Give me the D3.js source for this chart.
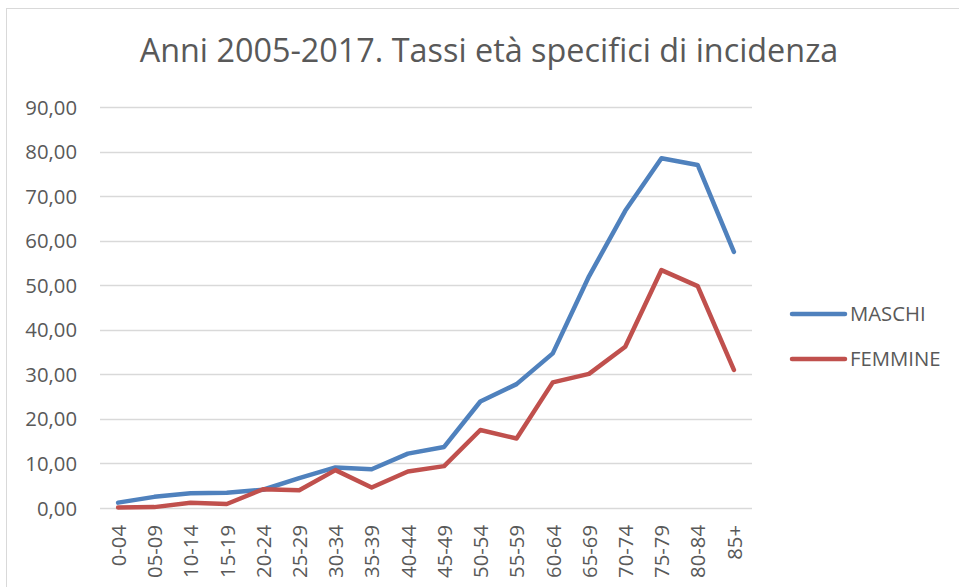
<!DOCTYPE html>
<html><head><meta charset="utf-8">
<script src="https://cdnjs.cloudflare.com/ajax/libs/d3/7.8.5/d3.min.js"></script>
<style>html,body{margin:0;padding:0;background:#fff;}svg{display:block;}</style>
</head><body>
<svg id="c" width="959" height="587"></svg>
<script>
const title = "Anni 2005-2017. Tassi età specifici di incidenza";
const categories = ["0-04","05-09","10-14","15-19","20-24","25-29","30-34","35-39","40-44","45-49","50-54","55-59","60-64","65-69","70-74","75-79","80-84","85+"];
const maschi = [1.2,2.5,3.3,3.4,4.1,6.7,9.1,8.7,12.2,13.7,23.9,27.8,34.7,52.0,66.7,78.5,77.0,57.5];
const femmine = [0.1,0.2,1.2,0.9,4.2,4.0,8.5,4.6,8.2,9.4,17.5,15.6,28.2,30.1,36.2,53.4,49.8,31.0];
const yTicks = [0,10,20,30,40,50,60,70,80,90];
const seriesNames = ["MASCHI","FEMMINE"];
const colors = ["#4F81BD","#C0504D"];

const font = "'Open Sans', sans-serif";
const fs = 20.3;
const svg = d3.select("#c");
const textColor = "#595959";

// border
svg.append("rect").attr("x",6.5).attr("y",8.5).attr("width",1000).attr("height",1000)
  .attr("fill","none").attr("stroke","#d9d9d9").attr("stroke-width",1);

const x = d3.scalePoint().domain(categories).range([118.1, 733.9]);
const y = d3.scaleLinear().domain([0,90]).range([508,107]);

// gridlines
svg.append("g").selectAll("line").data(yTicks).join("line")
  .attr("x1",100).attr("x2",752)
  .attr("y1",d=>Math.round(y(d))+0.5).attr("y2",d=>Math.round(y(d))+0.5)
  .attr("stroke","#d9d9d9").attr("stroke-width",1.3);

// y axis labels
const fmt = d => d.toFixed(2).replace(".", ",");
const yAxis = d3.axisLeft(y).tickValues(yTicks).tickFormat(fmt).tickSize(0).tickPadding(0);
const gy = svg.append("g").attr("transform","translate(77,0)").call(yAxis);
gy.select(".domain").remove();
gy.selectAll("text").attr("font-family",font).attr("font-size",fs).attr("fill",textColor).attr("dy","0.35em");

// x axis labels
const xAxis = d3.axisBottom(x).tickSize(0).tickPadding(0);
const gx = svg.append("g").attr("transform","translate(0,522)").call(xAxis);
gx.select(".domain").remove();
gx.selectAll("text").attr("font-family",font).attr("font-size",fs).attr("fill",textColor)
  .attr("transform","rotate(-90)").attr("text-anchor","end").attr("x",-3).attr("y",0).attr("dy","0.36em");

// lines
const line = d3.line().x((d,i)=>x(categories[i])).y(d=>y(d));
[maschi, femmine].forEach((s,k)=>{
  svg.append("path").datum(s).attr("d",line).attr("fill","none")
    .attr("stroke",colors[k]).attr("stroke-width",4.5)
    .attr("stroke-linejoin","round").attr("stroke-linecap","round");
});

// legend
const legY = [314, 359];
seriesNames.forEach((n,k)=>{
  svg.append("line").attr("x1",792).attr("x2",845).attr("y1",legY[k]).attr("y2",legY[k])
    .attr("stroke",colors[k]).attr("stroke-width",4.5).attr("stroke-linecap","round");
  svg.append("text").attr("x",850).attr("y",legY[k]).attr("dy","0.35em")
    .attr("font-family",font).attr("font-size",fs).attr("fill",textColor).text(n);
});

// title
const t = svg.append("text").attr("x",489).attr("y",62).attr("text-anchor","middle")
  .attr("font-family",font).attr("font-size",32).attr("fill",textColor).text(title);
const w = t.node().getComputedTextLength();
t.attr("font-size", 32*699/w);
</script>
</body></html>
